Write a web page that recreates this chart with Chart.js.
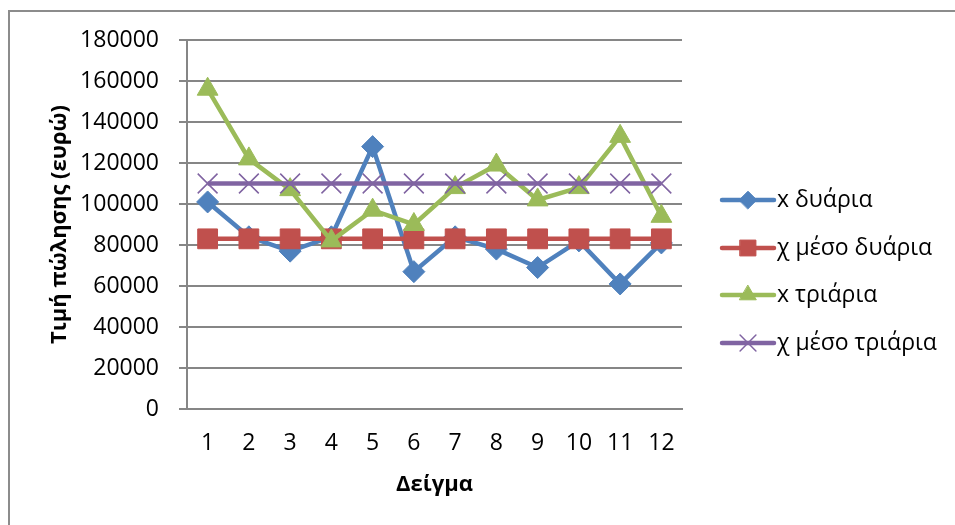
<!DOCTYPE html>
<html lang="el">
<head>
    <meta charset="UTF-8">
    <title>Τιμή πώλησης</title>
    <script src="https://cdn.jsdelivr.net/npm/chart.js"></script>
    <style>
        body { margin: 0; background: #fff; }
        #frame { position: absolute; left: 8px; top: 10px; width: 980px; height: 600px;
                 border-top: 2px solid #8c8c8c; border-left: 2px solid #8c8c8c; }
        #salesChart { position: absolute; left: 0; top: 0; }
    </style>
</head>
<body>
    <div id="frame"></div>
    <canvas id="salesChart" width="955" height="525"></canvas>

    <script>
        // Data
        const samples = ['1', '2', '3', '4', '5', '6', '7', '8', '9', '10', '11', '12'];
        const xDuaria = [101000, 84000, 77000, 84000, 128000, 67000, 84000, 78000, 69000, 82000, 61000, 81000];
        const xMesoDuaria = [83000, 83000, 83000, 83000, 83000, 83000, 83000, 83000, 83000, 83000, 83000, 83000];
        const xTriaria = [156000, 122000, 107000, 82000, 97000, 90000, 108000, 119000, 102000, 108000, 133000, 94000];
        const xMesoTriaria = [110000, 110000, 110000, 110000, 110000, 110000, 110000, 110000, 110000, 110000, 110000, 110000];
        const yTicks = [0, 20000, 40000, 60000, 80000, 100000, 120000, 140000, 160000, 180000];

        const FONT = "'Open Sans', 'Noto Sans', 'DejaVu Sans', sans-serif";
        const gridGray = '#868686';

        // Excel-style legend: short line with the marker in the middle
        const sideLegend = {
            id: 'sideLegend',
            afterDraw(chart) {
                const ctx = chart.ctx;
                const x0 = 722, x1 = 774, textX = 777;
                const rows = [200, 248, 295, 343];
                chart.data.datasets.forEach((ds, i) => {
                    const y = rows[i];
                    ctx.save();
                    ctx.strokeStyle = ds.borderColor;
                    ctx.lineWidth = ds.borderWidth;
                    ctx.lineCap = 'round';
                    ctx.beginPath();
                    ctx.moveTo(x0, y);
                    ctx.lineTo(x1, y);
                    ctx.stroke();
                    ctx.fillStyle = ds.pointBackgroundColor;
                    ctx.strokeStyle = ds.pointBorderColor;
                    ctx.lineWidth = ds.pointBorderWidth;
                    Chart.helpers.drawPoint(ctx, {
                        pointStyle: ds.pointStyle,
                        radius: ds.pointRadius * 0.8,
                        rotation: 0,
                        borderWidth: ds.pointBorderWidth
                    }, (x0 + x1) / 2, y);
                    ctx.fillStyle = '#000';
                    ctx.font = '23px ' + FONT;
                    ctx.textAlign = 'left';
                    ctx.textBaseline = 'middle';
                    ctx.fillText(ds.label, textX, y);
                    ctx.restore();
                });
            }
        };

        function series(label, data, color, style, radius, order) {
            return {
                label: label,
                data: data,
                borderColor: color,
                backgroundColor: color,
                borderWidth: 4.5,
                pointStyle: style,
                pointRadius: radius,
                pointHoverRadius: radius,
                pointBackgroundColor: color,
                pointBorderColor: color,
                pointBorderWidth: style === 'crossRot' ? 1.5 : 1,
                tension: 0,
                order: order
            };
        }

        new Chart(document.getElementById('salesChart'), {
            type: 'line',
            data: {
                labels: samples,
                datasets: [
                    series('x δυάρια', xDuaria, '#4F81BD', 'rectRot', 11, 3),
                    series('χ μέσο δυάρια', xMesoDuaria, '#C0504D', 'rect', 14, 2),
                    series('x τριάρια', xTriaria, '#9BBB59', 'triangle', 12, 1),
                    series('χ μέσο τριάρια', xMesoTriaria, '#8064A2', 'crossRot', 14, 0)
                ]
            },
            options: {
                responsive: false,
                animation: false,
                layout: { padding: { left: 40, top: 40, right: 273, bottom: 0 } },
                plugins: {
                    legend: { display: false },
                    tooltip: { enabled: false }
                },
                scales: {
                    x: {
                        offset: true,
                        grid: { display: false, drawTicks: false },
                        border: { color: gridGray, width: 2 },
                        ticks: { color: '#000', font: { family: FONT, size: 23 }, padding: 21, maxRotation: 0 },
                        title: {
                            display: true, text: 'Δείγμα', color: '#000',
                            font: { family: FONT, size: 22, weight: 'bold' },
                            padding: { top: 4, bottom: 27 }
                        },
                        afterFit: s => { s.height = 116; }
                    },
                    y: {
                        min: 0,
                        max: 180000,
                        afterBuildTicks: s => { s.ticks = yTicks.map(v => ({ value: v })); },
                        grid: { color: gridGray, lineWidth: 2, tickLength: 8, drawTicks: true },
                        border: { color: gridGray, width: 2 },
                        ticks: {
                            color: '#000', font: { family: FONT, size: 23 }, padding: 20,
                            callback: v => String(v)
                        },
                        title: {
                            display: true, text: 'Τιμή πώλησης (ευρώ)', color: '#000',
                            font: { family: FONT, size: 22, weight: 'bold' },
                            padding: { top: 7, bottom: 4 }
                        },
                        afterFit: s => { s.width = 147; }
                    }
                }
            },
            plugins: [sideLegend]
        });
    </script>
</body>
</html>
